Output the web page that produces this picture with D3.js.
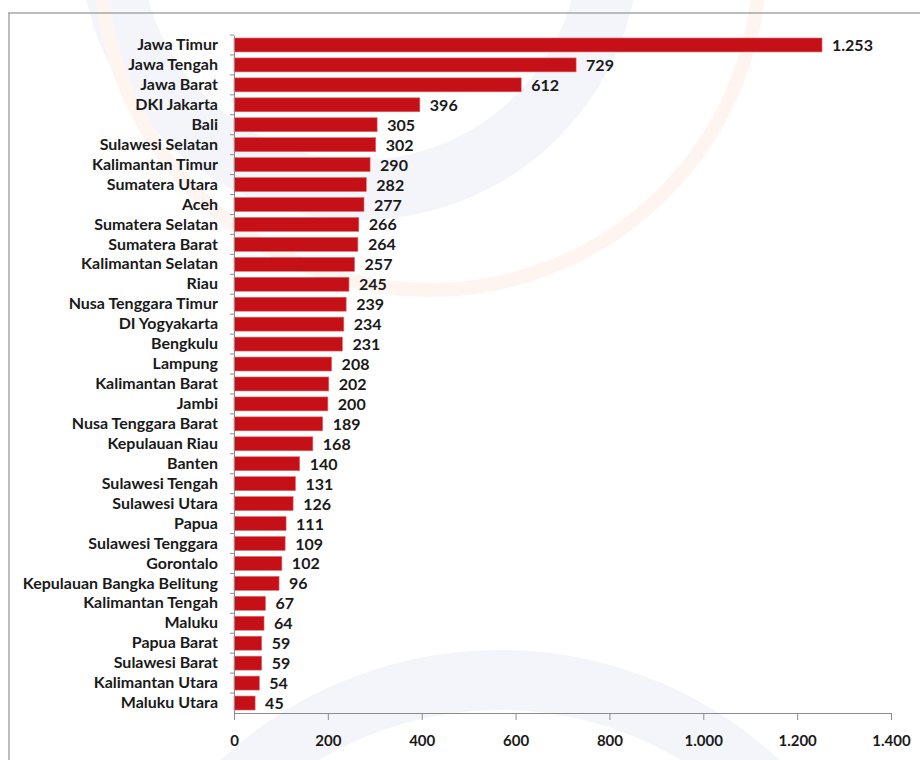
<!DOCTYPE html>
<html>
<head>
  <script type="text/javascript" src="https://cdn.jsdelivr.net/npm/d3@7"></script>
  <style>
    body { margin: 0; background: #fff; }
    text { font-family: Lato, "Open Sans", sans-serif; }
  </style>
</head>
<body>
  <div id="chart"></div>
  <script type="text/javascript">
    var w = 920;
    var h = 760;

    // provinsi dan nilai
    var provinces = ["Jawa Timur", "Jawa Tengah", "Jawa Barat", "DKI Jakarta", "Bali",
      "Sulawesi Selatan", "Kalimantan Timur", "Sumatera Utara", "Aceh", "Sumatera Selatan",
      "Sumatera Barat", "Kalimantan Selatan", "Riau", "Nusa Tenggara Timur", "DI Yogyakarta",
      "Bengkulu", "Lampung", "Kalimantan Barat", "Jambi", "Nusa Tenggara Barat",
      "Kepulauan Riau", "Banten", "Sulawesi Tengah", "Sulawesi Utara", "Papua",
      "Sulawesi Tenggara", "Gorontalo", "Kepulauan Bangka Belitung", "Kalimantan Tengah", "Maluku",
      "Papua Barat", "Sulawesi Barat", "Kalimantan Utara", "Maluku Utara"];
    var values = [1253, 729, 612, 396, 305, 302, 290, 282, 277, 266,
      264, 257, 245, 239, 234, 231, 208, 202, 200, 189,
      168, 140, 131, 126, 111, 109, 102, 96, 67, 64,
      59, 59, 54, 45];
    var xTicks = [0, 200, 400, 600, 800, 1000, 1200, 1400];

    var fmt = function(v) { return d3.format(",")(v).replace(/,/g, "."); };

    var svg = d3.select("#chart").append("svg")
      .attr("width", w)
      .attr("height", h);

    // watermark samar di belakang (hanya lengkungan)
    var wm = svg.append("g");
    wm.append("circle").attr("cx", 360).attr("cy", -60).attr("r", 250)
      .attr("fill", "none").attr("stroke", "#f3f5fa").attr("stroke-width", 60);
    wm.append("circle").attr("cx", 430).attr("cy", -40).attr("r", 330)
      .attr("fill", "none").attr("stroke", "#fef5f1").attr("stroke-width", 14);
    wm.append("circle").attr("cx", 500).attr("cy", 1060).attr("r", 380)
      .attr("fill", "none").attr("stroke", "#f3f5fa").attr("stroke-width", 60);

    // bingkai
    svg.append("line").attr("x1", 8).attr("x2", w).attr("y1", 13).attr("y2", 13)
      .attr("stroke", "#a6a6a6").attr("stroke-width", 1.5);
    svg.append("line").attr("x1", 9).attr("x2", 9).attr("y1", 13).attr("y2", h)
      .attr("stroke", "#a6a6a6").attr("stroke-width", 1.5);

    var xScale = d3.scaleLinear()
      .domain([0, 1400])
      .range([234, 891]);

    var yScale = d3.scaleBand()
      .domain(provinces)
      .range([35, 713])
      .paddingInner(0.3)
      .paddingOuter(0.15);

    svg.selectAll("rect.bar")
      .data(values)
      .enter()
      .append("rect")
      .attr("class", "bar")
      .attr("x", xScale(0))
      .attr("y", function(d, i) { return yScale(provinces[i]); })
      .attr("width", function(d) { return xScale(d) - xScale(0); })
      .attr("height", yScale.bandwidth())
      .attr("fill", "#c51017")
      .attr("stroke", "#e46a6c")
      .attr("stroke-width", 0.6);

    svg.selectAll("text.val")
      .data(values)
      .enter()
      .append("text")
      .attr("class", "val")
      .attr("x", function(d) { return xScale(d) + 10; })
      .attr("y", function(d, i) { return yScale(provinces[i]) + yScale.bandwidth() / 2 + 6; })
      .attr("font-size", 16)
      .attr("font-weight", "bold")
      .attr("fill", "#1a1a1a")
      .text(function(d) { return fmt(d); });

    // sumbu y
    var yAxis = d3.axisLeft(yScale).tickSize(0).tickPadding(16);
    var gy = svg.append("g")
      .attr("transform", "translate(" + xScale(0) + ",0)")
      .call(yAxis);
    gy.select(".domain").attr("stroke", "#8c8c8c");
    gy.selectAll("text")
      .attr("font-size", 16)
      .attr("font-weight", "bold")
      .attr("fill", "#1a1a1a")
      .style("font-family", "Lato, sans-serif");
    // garis tick di batas kategori
    var step = yScale.step();
    gy.selectAll("line.sep")
      .data(provinces)
      .enter()
      .append("line")
      .attr("class", "sep")
      .attr("x1", -4).attr("x2", 0)
      .attr("y1", function(d) { return yScale(d) - step * 0.15; })
      .attr("y2", function(d) { return yScale(d) - step * 0.15; })
      .attr("stroke", "#8c8c8c");

    // sumbu x
    var xAxis = d3.axisBottom(xScale)
      .tickValues(xTicks)
      .tickSize(7)
      .tickSizeOuter(0)
      .tickPadding(15)
      .tickFormat(fmt);
    var gx = svg.append("g")
      .attr("transform", "translate(0,713)")
      .call(xAxis);
    gx.select(".domain").attr("stroke", "#8c8c8c");
    gx.selectAll(".tick line").attr("stroke", "#8c8c8c");
    gx.selectAll("text")
      .attr("font-size", 15)
      .attr("font-weight", "bold")
      .attr("fill", "#1a1a1a")
      .style("font-family", "Lato, sans-serif");
  </script>
</body>
</html>
